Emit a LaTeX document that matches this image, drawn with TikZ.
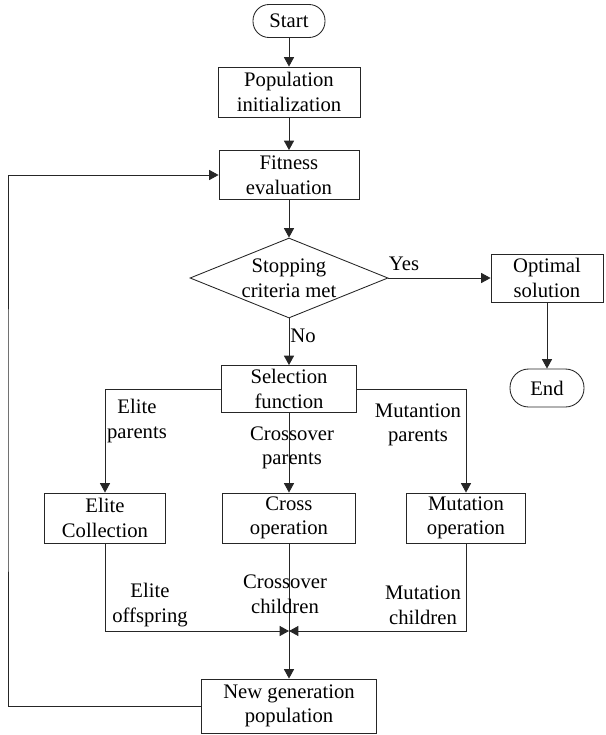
\documentclass[tikz,border=0pt]{standalone}
\usepackage{fontspec}
\setmainfont{Liberation Serif}
\usetikzlibrary{shapes.geometric,arrows.meta}

\tikzset{
  box/.style={draw=black!85, rectangle, align=center, inner sep=0pt, line width=0.65pt},
  term/.style={draw=black!85, rectangle, rounded corners=12pt, align=center, inner sep=0pt, line width=0.65pt},
  decide/.style={draw=black!85, diamond, aspect=2.5, align=center, inner sep=-2pt, line width=0.65pt},
  flow/.style={draw=black!85, -{Triangle[length=7pt,width=7.5pt]}, line width=0.65pt},
  lbl/.style={align=center, inner sep=0pt}
}

\begin{document}
\begin{tikzpicture}[x=0.75pt, y=-0.75pt, font={\fontsize{15.5}{18.5}\selectfont}]
        % Page frame
        \useasboundingbox (0,0) rectangle (606,735);

        % Main column
        \node[term, minimum width=54pt, minimum height=24.75pt] (start) at (289,21) {Start};
        \node[box, minimum width=106.5pt, minimum height=37.5pt] (init) at (289,92) {Population\\initialization};
        \node[box, minimum width=105pt, minimum height=36.75pt] (fit) at (289,175) {Fitness\\evaluation};
        \node[decide, minimum width=148.5pt, minimum height=60pt] (stop) at (289,278) {Stopping\\criteria met};
        \node[box, minimum width=101.25pt, minimum height=35.25pt] (sel) at (289,389) {Selection\\function};

        % Exit branch
        \node[box, minimum width=84pt, minimum height=36pt] (opt) at (547,278) {Optimal\\solution};
        \node[term, minimum width=55.5pt, minimum height=28.5pt, rounded corners=14pt] (end) at (547,388) {End};

        % Three operators
        \node[box, minimum width=90.75pt, minimum height=37.5pt] (elite) at (105,518) {Elite\\Collection};
        \node[box, minimum width=99.75pt, minimum height=37.5pt] (cross) at (289,518) {Cross\\operation};
        \node[box, minimum width=89.25pt, minimum height=37.5pt] (mut) at (466,518) {Mutation\\operation};
        \node[box, minimum width=131.25pt, minimum height=40.5pt] (newgen) at (289,706) {New generation\\population};

        % Helper points
        \coordinate (merge) at (289,631);
        \coordinate (back) at (8,440);

        % Connectors
        \draw[flow] (start) -- (init);
        \draw[flow] (init) -- (fit);
        \draw[flow] (fit) -- (stop);
        \draw[flow] (stop) -- (opt);
        \draw[flow] (opt) -- (end);
        \draw[flow] (stop) -- (sel);
        \draw[flow] (sel.west) -| (elite.north);
        \draw[flow] (sel) -- (cross);
        \draw[flow] (sel.east) -| (mut.north);
        \draw[flow] (elite.south) |- (merge);
        \draw[flow] (mut.south) |- (merge);
        \draw[flow] (cross) -- (newgen);
        \draw[flow] (newgen.west) -| (back) |- (fit.west);

        % Labels
        \node[lbl] (yes) at (404,264) {Yes};
        \node[lbl] (no) at (303,336) {No};
        \node[lbl] (elitepar) at (137,421) {Elite\\parents};
        \node[lbl] (crosspar) at (292,448) {Crossover\\parents};
        \node[lbl] (mutpar) at (418,425) {Mutantion\\parents};
        \node[lbl] (eliteoff) at (150,605) {Elite\\offspring};
        \node[lbl] (crosschild) at (285,594) {Crossover\\children};
        \node[lbl] (mutchild) at (423,605) {Mutation\\children};
\end{tikzpicture}
\end{document}
